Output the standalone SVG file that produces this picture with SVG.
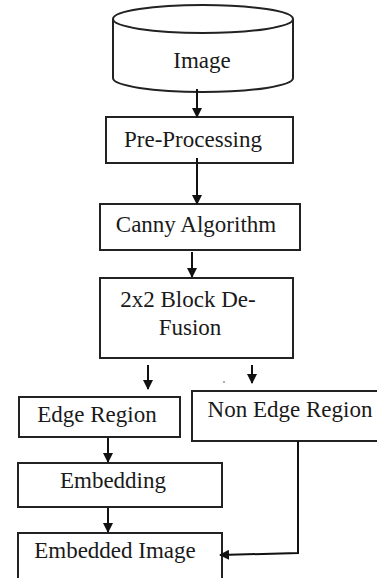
<svg xmlns="http://www.w3.org/2000/svg" width="377" height="578" viewBox="0 0 377 578">
<defs>
<marker id="ah" markerWidth="10" markerHeight="10" refX="9" refY="5" orient="auto" markerUnits="userSpaceOnUse">
<path d="M0,0 L10,5 L0,10 Z" fill="#111"/>
</marker>
<style>
.box{fill:#fff;stroke:#222;stroke-width:2}
.lbl{font-family:"Liberation Serif","Times New Roman",serif;font-size:23px;fill:#1a1a1a;text-anchor:middle}
.con{fill:none;stroke:#111;stroke-width:2;marker-end:url(#ah)}
</style>
</defs>
<rect width="377" height="578" fill="#fff"/>
<g id="image">
<path class="box" d="M113,19 L113,78 A90,14 0 0 0 293,78 L293,19"/>
<ellipse class="box" cx="203" cy="19" rx="90" ry="14"/>
<text class="lbl" x="202" y="68">Image</text>
</g>
<g id="preprocessing">
<rect class="box" x="106" y="117" width="187" height="46"/>
<text class="lbl" x="193" y="147">Pre-Processing</text>
</g>
<g id="canny">
<rect class="box" x="100" y="204" width="200" height="46"/>
<text class="lbl" x="196" y="232">Canny Algorithm</text>
</g>
<g id="block">
<rect class="box" x="100" y="278" width="193" height="80"/>
<text class="lbl" x="188" y="307">2x2 Block De-</text>
<text class="lbl" x="190" y="335">Fusion</text>
</g>
<g id="edge">
<rect class="box" x="19" y="397" width="161" height="40"/>
<text class="lbl" x="97" y="422">Edge Region</text>
</g>
<g id="nonedge">
<rect class="box" x="192" y="391" width="190" height="50"/>
<text class="lbl" x="290" y="417">Non Edge Region</text>
</g>
<g id="embedding">
<rect class="box" x="18" y="463" width="204" height="44"/>
<text class="lbl" x="113" y="488">Embedding</text>
</g>
<g id="embedded">
<rect class="box" x="18" y="533" width="204" height="60"/>
<text class="lbl" x="115" y="558">Embedded Image</text>
</g>
<g id="connectors">
<path class="con" d="M197,89 L197,117"/>
<path class="con" d="M197,158 L197,204"/>
<path class="con" d="M192,252 L192,277"/>
<path class="con" d="M148,365 L148,389"/>
<path class="con" d="M252,365 L252,383"/>
<path class="con" d="M108,438 L108,462"/>
<path class="con" d="M108,508 L108,532"/>
<path class="con" d="M298,441 L298,553 L220,555"/>
<circle cx="224" cy="382" r="0.8" fill="#444"/>
</g>
</svg>
